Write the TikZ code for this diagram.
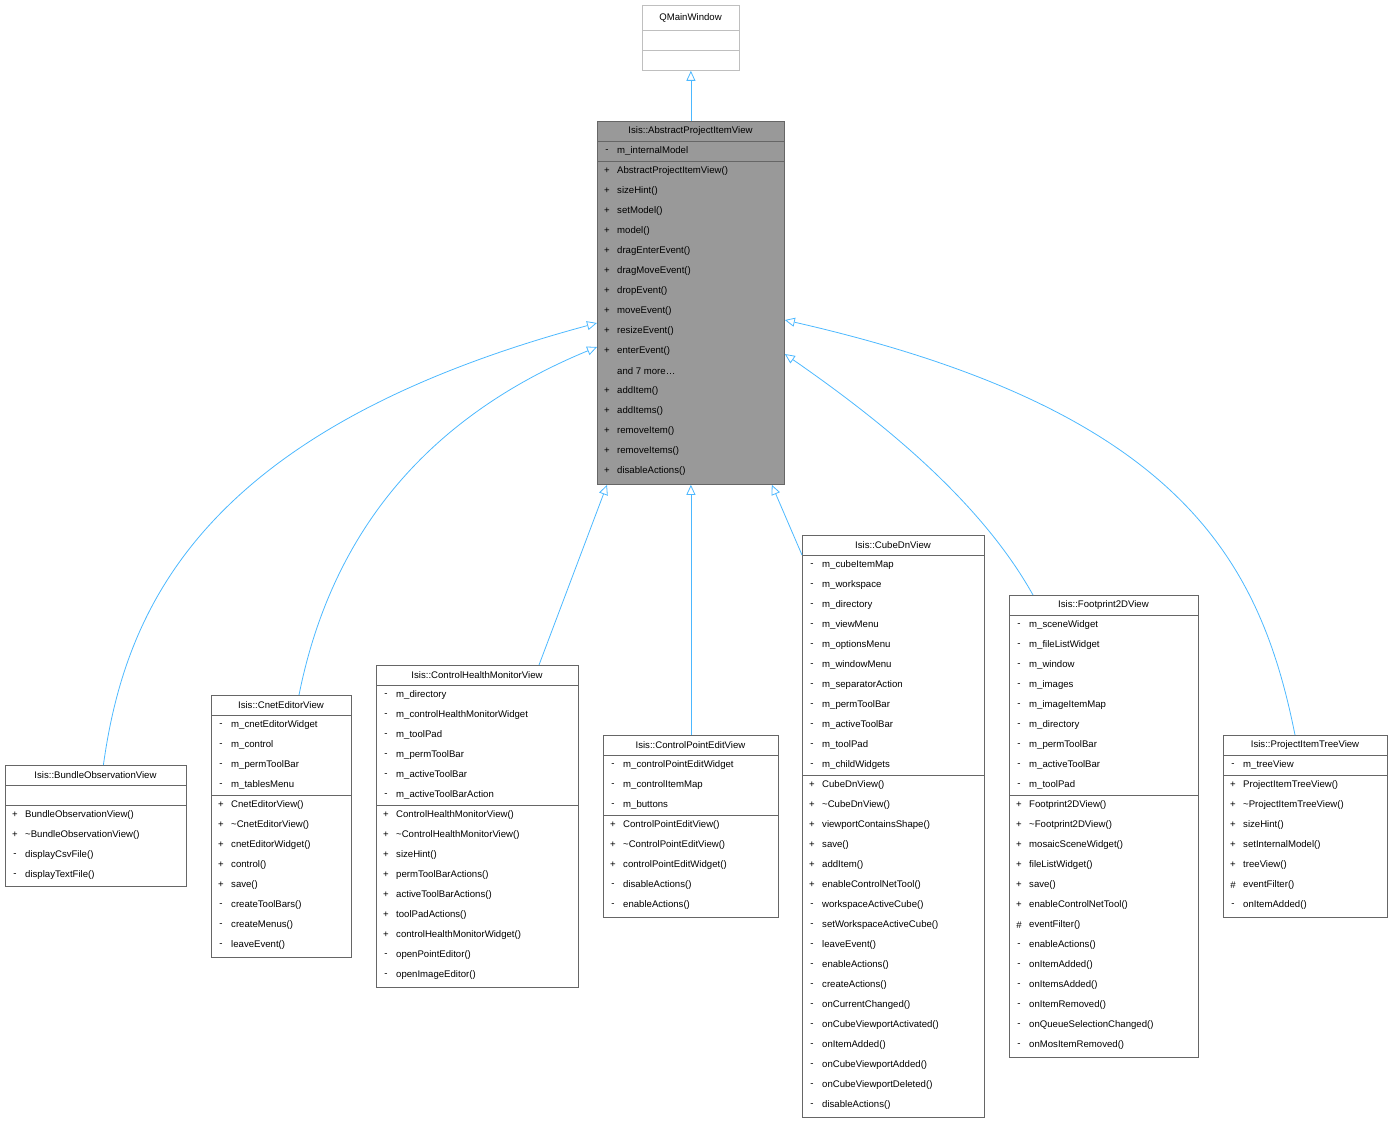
\documentclass[tikz,border=0pt]{standalone}
\usepackage{fontspec}
\setmainfont{Liberation Sans}
\usetikzlibrary{arrows.meta}
\catcode`\_=12
\tikzset{
 box/.style={draw=black!60,fill=white,inner sep=0pt,line width=0.8pt},
 tx/.style={inner sep=0pt,anchor=west,font=\fontsize{9.6}{11}\selectfont},
 sg/.style={inner sep=0pt,anchor=center,font=\fontsize{9.6}{11}\selectfont},
 ln/.style={draw=black!60,line width=0.8pt},
 inh/.style={draw=blue!40!cyan!70!white,line width=0.8pt,-{Triangle[open,length=10pt,width=9pt,fill=white]}}
}
\newcommand\cls[6]{%
 \node[box,minimum width={(#3-#2)*1pt},minimum height={(#5-#4)*1pt},anchor=north west] (#1) at (#2,#4) {};
 \node[tx,anchor=center] at ({(#2+#3)/2},{#4+10}) {#6};
 \draw[ln] (#2,{#4+20}) -- (#3,{#4+20});}
\newcommand\hl[3]{\draw[ln] (#1,#3) -- (#2,#3);}
\newcommand\rows[3]{%
 \foreach \s/\t [count=\i from 0] in {#3} {
  \node[sg] at ({#1+10},{#2+20*\i}) {\s};
  \node[tx] at ({#1+20},{#2+20*\i}) {\t};}}
\begin{document}
\begin{tikzpicture}[x=1pt,y=-1pt]
\useasboundingbox (0,0) rectangle (1393,1123);
% QMainWindow
\node[box,draw=black!25,minimum width=97pt,minimum height=65pt,anchor=north west] (qmw) at (642,5) {};
\node[tx,anchor=center] at (690.5,18) {QMainWindow};
\draw[draw=black!25,line width=0.8pt] (642,30) -- (739,30) (642,50) -- (739,50);
% Abstract
\node[box,fill=black!40,minimum width=187pt,minimum height=363pt,anchor=north west] (apiv) at (597,121) {};
\node[tx,anchor=center] at (690.5,131) {Isis::AbstractProjectItemView};
\hl{597}{784}{141}\hl{597}{784}{161}
\rows{597}{151}{-/m_internalModel}
\rows{597}{171}{+/AbstractProjectItemView(),+/sizeHint(),+/setModel(),+/model(),+/dragEnterEvent(),+/dragMoveEvent(),+/dropEvent(),+/moveEvent(),+/resizeEvent(),+/enterEvent(),{}/{and 7 more\ldots},+/addItem(),+/addItems(),+/removeItem(),+/removeItems(),+/disableActions()}
% Bundle
\cls{bov}{5}{186}{765}{886}{Isis::BundleObservationView}
\hl{5}{186}{805}
\rows{5}{815}{+/BundleObservationView(),+/\textasciitilde BundleObservationView(),-/displayCsvFile(),-/displayTextFile()}
% Cnet
\cls{cnet}{211}{351}{695}{957}{Isis::CnetEditorView}
\rows{211}{725}{-/m_cnetEditorWidget,-/m_control,-/m_permToolBar,-/m_tablesMenu}
\hl{211}{351}{795}
\rows{211}{805}{+/CnetEditorView(),+/\textasciitilde CnetEditorView(),+/cnetEditorWidget(),+/control(),+/save(),-/createToolBars(),-/createMenus(),-/leaveEvent()}
% CHMV
\cls{chmv}{376}{578}{665}{987}{Isis::ControlHealthMonitorView}
\rows{376}{695}{-/m_directory,-/m_controlHealthMonitorWidget,-/m_toolPad,-/m_permToolBar,-/m_activeToolBar,-/m_activeToolBarAction}
\hl{376}{578}{805}
\rows{376}{815}{+/ControlHealthMonitorView(),+/\textasciitilde ControlHealthMonitorView(),+/sizeHint(),+/permToolBarActions(),+/activeToolBarActions(),+/toolPadActions(),+/controlHealthMonitorWidget(),-/openPointEditor(),-/openImageEditor()}
% CPEV
\cls{cpev}{603}{778}{735}{917}{Isis::ControlPointEditView}
\rows{603}{765}{-/m_controlPointEditWidget,-/m_controlItemMap,-/m_buttons}
\hl{603}{778}{815}
\rows{603}{825}{+/ControlPointEditView(),+/\textasciitilde ControlPointEditView(),+/controlPointEditWidget(),-/disableActions(),-/enableActions()}
% CubeDn
\cls{cube}{802}{984}{535}{1117}{Isis::CubeDnView}
\rows{802}{565}{-/m_cubeItemMap,-/m_workspace,-/m_directory,-/m_viewMenu,-/m_optionsMenu,-/m_windowMenu,-/m_separatorAction,-/m_permToolBar,-/m_activeToolBar,-/m_toolPad,-/m_childWidgets}
\hl{802}{984}{775}
\rows{802}{785}{+/CubeDnView(),+/\textasciitilde CubeDnView(),+/viewportContainsShape(),+/save(),+/addItem(),+/enableControlNetTool(),-/workspaceActiveCube(),-/setWorkspaceActiveCube(),-/leaveEvent(),-/enableActions(),-/createActions(),-/onCurrentChanged(),-/onCubeViewportActivated(),-/onItemAdded(),-/onCubeViewportAdded(),-/onCubeViewportDeleted(),-/disableActions()}
% Footprint
\cls{fp}{1009}{1198}{595}{1057}{Isis::Footprint2DView}
\rows{1009}{625}{-/m_sceneWidget,-/m_fileListWidget,-/m_window,-/m_images,-/m_imageItemMap,-/m_directory,-/m_permToolBar,-/m_activeToolBar,-/m_toolPad}
\hl{1009}{1198}{795}
\rows{1009}{805}{+/Footprint2DView(),+/\textasciitilde Footprint2DView(),+/mosaicSceneWidget(),+/fileListWidget(),+/save(),+/enableControlNetTool(),\#/eventFilter(),-/enableActions(),-/onItemAdded(),-/onItemsAdded(),-/onItemRemoved(),-/onQueueSelectionChanged(),-/onMosItemRemoved()}
% PITV
\cls{pitv}{1223}{1387}{735}{917}{Isis::ProjectItemTreeView}
\rows{1223}{765}{-/m_treeView}
\hl{1223}{1387}{775}
\rows{1223}{785}{+/ProjectItemTreeView(),+/\textasciitilde ProjectItemTreeView(),+/sizeHint(),+/setInternalModel(),+/treeView(),\#/eventFilter(),-/onItemAdded()}
% edges
\draw[inh] (apiv.north) -- (qmw.south);
\draw[inh] ([xshift=7.5pt]bov.north) .. controls (125,610) and (200,430) .. ([yshift=-202pt]apiv.north west);
\draw[inh] ([xshift=88pt]cnet.north west) .. controls (330,540) and (420,420) .. ([yshift=-226pt]apiv.north west);
\draw[inh] ([xshift=163pt]chmv.north west) -- ([xshift=10pt]apiv.south west);
\draw[inh] (cpev.north) -- (apiv.south);
\draw[inh] ([yshift=-20pt]cube.north west) -- ([xshift=-13pt]apiv.south east);
\draw[inh] ([xshift=24pt]fp.north west) .. controls (980,500) and (880,420) .. ([yshift=-233pt]apiv.north east);
\draw[inh] ([xshift=72pt]pitv.north west) .. controls (1260,560) and (1180,410) .. ([yshift=-199pt]apiv.north east);
\end{tikzpicture}
\end{document}
